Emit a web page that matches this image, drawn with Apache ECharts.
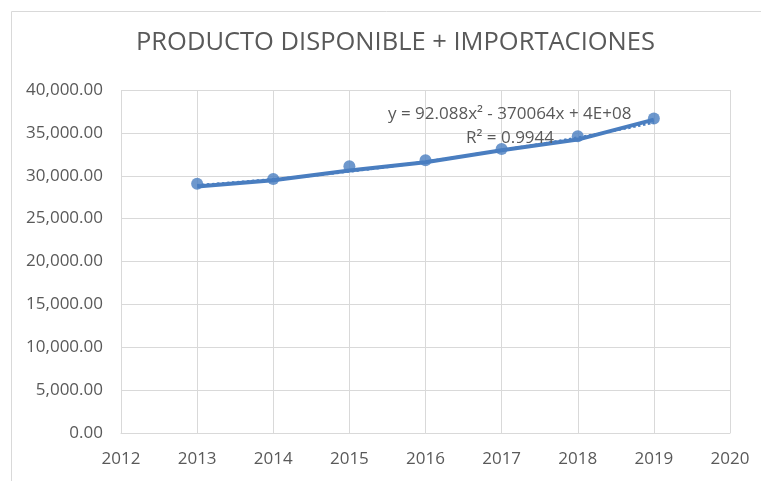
<!DOCTYPE html>
<html><head><meta charset="utf-8">
<script src="https://cdn.jsdelivr.net/npm/echarts@6/dist/echarts.min.js"></script>
<style>html,body{margin:0;padding:0;background:#fff}#c{width:761px;height:481px}</style>
</head><body><div id="c"></div>
<script>
var years = [2013, 2014, 2015, 2016, 2017, 2018, 2019];
var pointValues = [29080, 29630, 31100, 31800, 33130, 34600, 36670];
var lineValues = [28760, 29470, 30600, 31570, 32970, 34220, 36550];
var trendValues = [28900, 29600, 30500, 31650, 33000, 34450, 36200];
var titleText = 'PRODUCTO DISPONIBLE + IMPORTACIONES';
var eqText = 'y = 92.088x² - 370064x + 4E+08';
var r2Text = 'R² = 0.9944';
function pairs(v){ return years.map(function(y,i){ return [y, v[i]]; }); }
var color = '#4A7EC0';
var chart = echarts.init(document.getElementById('c'));
chart.setOption({
  animation: false,
  title: { text: titleText, left: 131, top: 25,
    textStyle: { fontFamily: 'Open Sans', fontWeight: 'normal', fontSize: 25.5, color: '#595959' } },
  grid: { left: 121, right: 31, top: 90, bottom: 48 },
  xAxis: { type: 'value', min: 2012, max: 2020, interval: 1,
    axisLine: { show: true, lineStyle: { color: '#D9D9D9', width: 1 } },
    axisTick: { show: false },
    splitLine: { show: true, lineStyle: { color: '#D9D9D9' } },
    axisLabel: { color: '#595959', fontFamily: 'Open Sans', fontSize: 17, margin: 18,
      formatter: function(v){ return String(v); } } },
  yAxis: { type: 'value', min: 0, max: 40000, interval: 5000,
    axisLine: { show: false }, axisTick: { show: false },
    splitLine: { show: true, lineStyle: { color: '#D9D9D9' } },
    axisLabel: { color: '#595959', fontFamily: 'Open Sans', fontSize: 17, margin: 18,
      formatter: function(v){ return v.toLocaleString('en-US',{minimumFractionDigits:2,maximumFractionDigits:2}); } } },
  graphic: [
    { type: 'rect', left: 9, top: 9, shape: { width: 800, height: 520 }, silent: true,
      style: { fill: 'none', stroke: '#D9D9D9', lineWidth: 1 } },
    { type: 'text', left: 388, top: 106, style: { text: eqText, fill: '#595959', font: '17px "Open Sans"' }, z: 10 },
    { type: 'text', left: 466, top: 130, style: { text: r2Text, fill: '#595959', font: '17px "Open Sans"' }, z: 10 }
  ],
  series: [
    { type: 'line', data: pairs(lineValues), showSymbol: false, symbol: 'none',
      lineStyle: { color: color, width: 4 }, z: 2 },
    { type: 'line', data: pairs(trendValues), showSymbol: false, symbol: 'none', smooth: true,
      lineStyle: { color: color, width: 2.5, type: 'dotted' }, z: 3 },
    { type: 'scatter', data: pairs(pointValues), symbol: 'circle', symbolSize: 12,
      itemStyle: { color: color }, z: 4 }
  ]
});
</script></body></html>
